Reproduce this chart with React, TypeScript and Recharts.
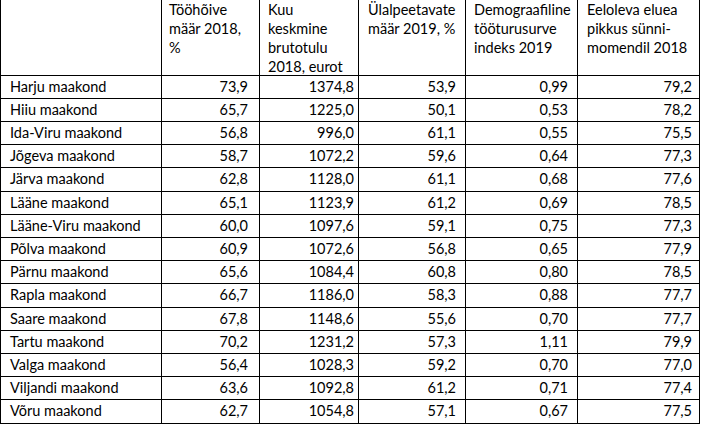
import { ScatterChart, Scatter, XAxis, YAxis, ReferenceLine } from 'recharts';

const counties = [
  'Harju maakond', 'Hiiu maakond', 'Ida-Viru maakond', 'Jõgeva maakond', 'Järva maakond',
  'Lääne maakond', 'Lääne-Viru maakond', 'Põlva maakond', 'Pärnu maakond', 'Rapla maakond',
  'Saare maakond', 'Tartu maakond', 'Valga maakond', 'Viljandi maakond', 'Võru maakond',
];

const employment = [73.9, 65.7, 56.8, 58.7, 62.8, 65.1, 60.0, 60.9, 65.6, 66.7, 67.8, 70.2, 56.4, 63.6, 62.7];
const income = [1374.8, 1225.0, 996.0, 1072.2, 1128.0, 1123.9, 1097.6, 1072.6, 1084.4, 1186.0, 1148.6, 1231.2, 1028.3, 1092.8, 1054.8];
const dependency = [53.9, 50.1, 61.1, 59.6, 61.1, 61.2, 59.1, 56.8, 60.8, 58.3, 55.6, 57.3, 59.2, 61.2, 57.1];
const pressureIndex = [0.99, 0.53, 0.55, 0.64, 0.68, 0.69, 0.75, 0.65, 0.80, 0.88, 0.70, 1.11, 0.70, 0.71, 0.67];
const lifeExpectancy = [79.2, 78.2, 75.5, 77.3, 77.6, 78.5, 77.3, 77.9, 78.5, 77.7, 77.7, 79.9, 77.0, 77.4, 77.5];

const headers = [
  ['Tööhõive', 'määr 2018,', '%'],
  ['Kuu', 'keskmine', 'brutotulu', '2018, eurot'],
  ['Ülalpeetavate', 'määr 2019, %'],
  ['Demograafiline', 'tööturusurve', 'indeks 2019'],
  ['Eeloleva eluea', 'pikkus sünni-', 'momendil 2018'],
];

const series = [employment, income, dependency, pressureIndex, lifeExpectancy];
const decimals = [1, 1, 1, 2, 1];

// layout (pixels on the x axis, rows on the y axis)
const W = 702;
const H = 425;
const colEdges = [0.5, 161.5, 259.5, 358.5, 465.5, 577.5, 699.5];
const headerStarts = [169, 268, 368, 474, 587];
const valueEnds = [248, 354, 456, 568, 692];
const nameStart = 10;
const rowH = 23.2;
const headerTop = -75 / rowH;
const bottom = counties.length + 2 / rowH;

const FONT = 'Lato, "Noto Sans", sans-serif';
const FS = 14.5;

const fmt = (v: number, d: number) => v.toFixed(d).replace('.', ',');

const nameData = counties.map((c, i) => ({ x: nameStart, y: i + 0.5, label: c }));
const colData = series.map((vals, j) =>
  vals.map((v, i) => ({ x: valueEnds[j], y: i + 0.5, label: fmt(v, decimals[j]) }))
);
const headerData = headers.map((lines, j) => ({ x: headerStarts[j], y: headerTop, lines }));

const CellText = (anchor: 'start' | 'end') => (props: any) => (
  <text
    x={props.cx}
    y={props.cy}
    dy={5}
    textAnchor={anchor}
    fontFamily={FONT}
    fontSize={FS}
    fill="#000"
  >
    {props.payload.label}
  </text>
);

const HeaderText = (props: any) => (
  <text x={props.cx} y={props.cy} fontFamily={FONT} fontSize={FS} fill="#000">
    {props.payload.lines.map((l: string, k: number) => (
      <tspan key={k} x={props.cx} y={props.cy + 15 + 19 * k}>
        {l}
      </tspan>
    ))}
  </text>
);

export default function App() {
  return (
    <div style={{ position: 'absolute', left: 0, top: 0, background: '#fff' }}>
      <ScatterChart width={W} height={H} margin={{ top: 0, right: 0, bottom: 0, left: 0 }}>
        <XAxis type="number" dataKey="x" domain={[0, W]} allowDataOverflow hide />
        <YAxis type="number" dataKey="y" domain={[headerTop, bottom]} allowDataOverflow reversed hide />
        {colEdges.map((e, k) => (
          <ReferenceLine
            key={'v' + k}
            segment={[{ x: e, y: headerTop }, { x: e, y: counties.length }]}
            stroke="#000"
            strokeWidth={1}
            shapeRendering="crispEdges"
          />
        ))}
        {Array.from({ length: counties.length + 1 }, (_, i) => (
          <ReferenceLine
            key={'h' + i}
            segment={[{ x: 0, y: i }, { x: colEdges[colEdges.length - 1], y: i }]}
            stroke="#000"
            strokeWidth={1}
            shapeRendering="crispEdges"
          />
        ))}
        <Scatter data={headerData} shape={HeaderText} isAnimationActive={false} />
        <Scatter data={nameData} shape={CellText('start')} isAnimationActive={false} />
        {colData.map((d, j) => (
          <Scatter key={j} data={d} shape={CellText('end')} isAnimationActive={false} />
        ))}
      </ScatterChart>
    </div>
  );
}
